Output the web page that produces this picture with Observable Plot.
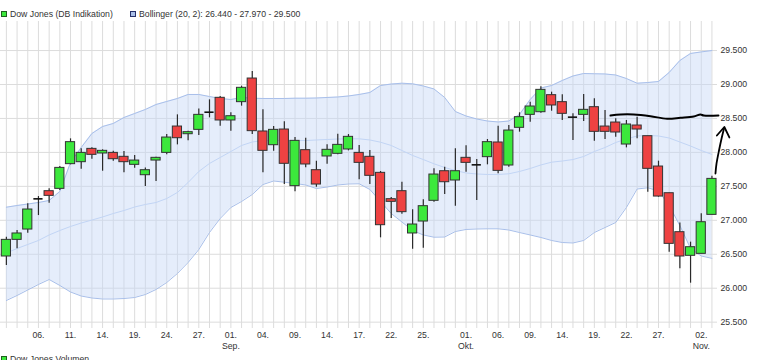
<!DOCTYPE html>
<html><head><meta charset="utf-8">
<script src="https://cdn.jsdelivr.net/npm/d3@7"></script>
<script src="https://cdn.jsdelivr.net/npm/@observablehq/plot@0.6"></script>
<style>
html,body{margin:0;padding:0;background:#fff;overflow:hidden;width:767px;height:360px;}
body{position:relative;font-family:"Liberation Sans",Arial,sans-serif;font-size:8.7px;color:#333;}
.leg{position:absolute;white-space:nowrap;line-height:10px;}
.sw{position:absolute;width:4px;height:4px;border:1px solid #333;}
#chart{position:absolute;left:0;top:20px;}
</style></head><body>
<div class="sw" style="left:1px;top:11px;background:#3ce83c;border-color:#1f5f1f"></div>
<div class="leg" style="left:10px;top:9px">Dow Jones (DB Indikation)</div>
<div class="sw" style="left:130px;top:11px;background:#a9bfe8;border-color:#26306a"></div>
<div class="leg" style="left:139px;top:9px">Bollinger (20, 2): 26.440 - 27.970 - 29.500</div>
<div id="chart"></div>
<div class="sw" style="left:1px;top:356px;background:#3ce83c;border-color:#1f5f1f"></div>
<div class="leg" style="left:10px;top:354px">Dow Jones Volumen</div>
<script>
const dates = [
 "2020-08-03","2020-08-04","2020-08-05","2020-08-06","2020-08-07","2020-08-10","2020-08-11","2020-08-12","2020-08-13","2020-08-14",
 "2020-08-17","2020-08-18","2020-08-19","2020-08-20","2020-08-21","2020-08-24","2020-08-25","2020-08-26","2020-08-27","2020-08-28",
 "2020-08-31","2020-09-01","2020-09-02","2020-09-03","2020-09-04","2020-09-07","2020-09-08","2020-09-09","2020-09-10","2020-09-11",
 "2020-09-14","2020-09-15","2020-09-16","2020-09-17","2020-09-18","2020-09-21","2020-09-22","2020-09-23","2020-09-24","2020-09-25",
 "2020-09-28","2020-09-29","2020-09-30","2020-10-01","2020-10-02","2020-10-05","2020-10-06","2020-10-07","2020-10-08","2020-10-09",
 "2020-10-12","2020-10-13","2020-10-14","2020-10-15","2020-10-16","2020-10-19","2020-10-20","2020-10-21","2020-10-22","2020-10-23",
 "2020-10-26","2020-10-27","2020-10-28","2020-10-29","2020-10-30","2020-11-02","2020-11-03"];
const open = [
 26467,26712,26864,27316,27429,27463,27827,27856,28052,27984,
 27993,27935,27817,27664,27880,27993,28381,28268,28332,28592,
 28804,28470,28740,29088,28308,28106,28337,27503,28033,27738,
 27940,27979,28043,27993,27935,27699,27311,27429,26806,26982,
 27287,27723,27586,27920,27817,27930,28146,27807,28362,28553,
 28592,28843,28740,28519,28553,28666,28381,28440,28116,28396,
 28239,27792,27399,26825,26477,26506,27080];
const close = [
 26712,26806,27159,27316,27360,27772,28151,27993,27964,28023,
 27900,27856,27880,27738,27920,28219,28209,28298,28553,28592,
 28470,28533,28951,28313,28023,28332,27832,28170,27822,27527,
 28038,28111,28229,27846,27655,26928,27272,27120,26938,27208,
 27674,27561,27723,27846,27817,28151,27728,28322,28519,28676,
 28921,28691,28568,28519,28627,28303,28303,28293,28411,28337,
 27758,27350,26653,26467,26604,26972,27610];
const high = [
 26751,26850,27242,27350,27463,27792,28200,28052,28070,28038,
 28018,28013,27954,27772,27930,28263,28553,28313,28641,28774,
 28823,28583,28975,29191,28627,28381,28450,28219,28209,27871,
 28111,28268,28263,28101,28028,27719,27336,27561,27154,27301,
 27758,27782,28052,28097,27895,28190,28386,28396,28583,28740,
 28966,28887,28848,28568,28853,28789,28617,28494,28470,28519,
 28239,27871,27399,26962,26678,27095,27650];
const low = [
 26334,26580,26810,27070,27252,27439,27817,27753,27900,27723,
 27871,27699,27768,27498,27571,27964,28111,28170,28249,28509,
 28386,28313,28681,28264,27699,28018,27527,27419,27773,27488,
 27827,27964,28023,27596,27527,26742,27026,27090,26575,26590,
 27267,27380,27208,27709,27292,27817,27684,27782,28298,28445,
 28578,28607,28470,28175,28455,28165,28190,28224,28067,28200,
 27414,27340,26531,26285,26074,26506,27080];
const bbUpper = [
 27193,27218,27240,27262,27292,27424,27851,28072,28278,28381,
 28426,28514,28573,28632,28705,28750,28794,28853,28853,28823,
 28794,28779,28809,28798,28794,28794,28794,28798,28798,28801,
 28809,28816,28831,28853,28882,28985,29007,29019,29010,28978,
 28934,28809,28602,28536,28492,28462,28448,28462,28558,28779,
 28948,28985,29059,29125,29162,29158,29155,29140,29088,29019,
 29029,29044,29177,29353,29457,29480,29500];
const bbMiddle = [
 26519,26585,26644,26703,26784,26850,26909,26960,27004,27049,
 27100,27144,27196,27233,27262,27321,27410,27557,27719,27837,
 27925,28013,28102,28153,28175,28175,28175,28175,28175,28183,
 28190,28197,28200,28200,28183,28150,28102,28028,27955,27895,
 27832,27778,27733,27697,27682,27675,27675,27685,27719,27763,
 27815,27856,27873,27895,27940,28013,28072,28146,28197,28242,
 28249,28242,28212,28153,28094,28028,27970];
const bbLower = [
 25819,25893,25974,26055,26128,26040,25944,25885,25856,25841,
 25841,25848,25863,25907,25981,26084,26217,26379,26570,26820,
 27027,27189,27277,27380,27527,27579,27561,27542,27520,27468,
 27490,27520,27535,27538,27454,27277,27100,26975,26850,26784,
 26751,26754,26835,26865,26872,26875,26875,26857,26820,26784,
 26747,26703,26673,26666,26703,26820,26894,26968,27189,27461,
 27479,27432,27218,26923,26585,26474,26440];
const yTicks = [25500,26000,26500,27000,27500,28000,28500,29000,29500];
const tickDates = ["2020-08-06","2020-08-11","2020-08-14","2020-08-19","2020-08-24","2020-08-27","2020-09-01",
 "2020-09-04","2020-09-09","2020-09-14","2020-09-17","2020-09-22","2020-09-25","2020-10-01","2020-10-06",
 "2020-10-09","2020-10-14","2020-10-19","2020-10-22","2020-10-27","2020-11-02"];
const monthLabels = {"2020-09-01":"Sep.","2020-10-01":"Okt.","2020-11-02":"Nov."};
// hand-drawn annotation (position in slot index / index value)
const annotLineX = [56.51,57.45,58.69,60.25,61.81,63.06,64.30,64.93,65.24,66.61];
const annotLineY = [28543,28558,28558,28533,28495,28510,28529,28558,28543,28543];
const arrowShaftX = [66.33,66.43,66.66,66.90,67.13];
const arrowShaftY = [27689,27837,28028,28205,28352];
const arrowHeadX = [66.46,67.16,67.63];
const arrowHeadY = [28249,28374,28220];

const fmt = d3.formatLocale({decimal:",",thousands:".",grouping:[3],currency:["","€"]}).format(",d");
const candles = dates.map((d,i)=>({i,date:d,open:open[i],high:high[i],low:low[i],close:close[i],
  up:bbUpper[i],mid:bbMiddle[i],lo:bbLower[i]}));
const idx = new Map(dates.map((d,i)=>[d,i]));
const ticks = tickDates.map(d=>({i:idx.get(d),day:d.slice(8)+".",month:monthLabels[d]||""}));
const annot = annotLineX.map((x,k)=>({x,y:annotLineY[k]}));
const shaft = arrowShaftX.map((x,k)=>({x,y:arrowShaftY[k]}));
const head = arrowHeadX.map((x,k)=>({x,y:arrowHeadY[k]}));
const hw = 0.43;
const green = "#3ce83c", red = "#ee4242";

const chart = Plot.plot({
  width:767, height:332, marginTop:1, marginBottom:24, marginLeft:0, marginRight:50,
  style:{fontFamily:"'Liberation Sans',Arial,sans-serif",fontSize:"8.7px",color:"#333",background:"transparent",overflow:"visible"},
  x:{domain:[-0.55,66.52], axis:null},
  y:{domain:[25406.6,29927.8], axis:null},
  marks:[
    Plot.ruleX(candles,{x:"i",stroke:"#dcdcdc",strokeWidth:1}),
    Plot.ruleY(yTicks,{stroke:"#dcdcdc",strokeWidth:1}),
    Plot.areaY(candles,{x:"i",y1:"lo",y2:"up",fill:"#c6d7f6",fillOpacity:0.45}),
    Plot.lineY(candles,{x:"i",y:"up",stroke:"#a8bfea",strokeWidth:1}),
    Plot.lineY(candles,{x:"i",y:"lo",stroke:"#a8bfea",strokeWidth:1}),
    Plot.lineY(candles,{x:"i",y:"mid",stroke:"#c2d5f5",strokeWidth:1}),
    Plot.ruleX(candles,{x:"i",y1:"low",y2:"high",stroke:"#2a2a2a",strokeWidth:1.2}),
    Plot.rect(candles.filter(d=>d.close>d.open),{x1:d=>d.i-hw,x2:d=>d.i+hw,y1:"open",y2:"close",fill:green,stroke:"#333",strokeWidth:1}),
    Plot.rect(candles.filter(d=>d.close<d.open),{x1:d=>d.i-hw,x2:d=>d.i+hw,y1:"open",y2:"close",fill:red,stroke:"#333",strokeWidth:1}),
    Plot.ruleY(candles.filter(d=>d.close===d.open),{x1:d=>d.i-hw,x2:d=>d.i+hw,y:"close",stroke:"#111",strokeWidth:1.6}),
    Plot.line(annot,{x:"x",y:"y",stroke:"#000",strokeWidth:2,curve:"catmull-rom"}),
    Plot.line(shaft,{x:"x",y:"y",stroke:"#000",strokeWidth:1.8,curve:"catmull-rom"}),
    Plot.line(head,{x:"x",y:"y",stroke:"#000",strokeWidth:1.8,strokeLinejoin:"round"}),
    Plot.axisY(yTicks,{anchor:"right",tickSize:0,tickPadding:3,tickFormat:fmt,fill:"#333"}),
    Plot.text(ticks,{x:"i",text:"day",frameAnchor:"bottom",dy:7,lineAnchor:"middle",fill:"#333"}),
    Plot.text(ticks,{x:"i",text:"month",frameAnchor:"bottom",dy:17.5,lineAnchor:"middle",fill:"#333"})
  ]
});
document.getElementById("chart").appendChild(chart);
</script>
</body></html>
